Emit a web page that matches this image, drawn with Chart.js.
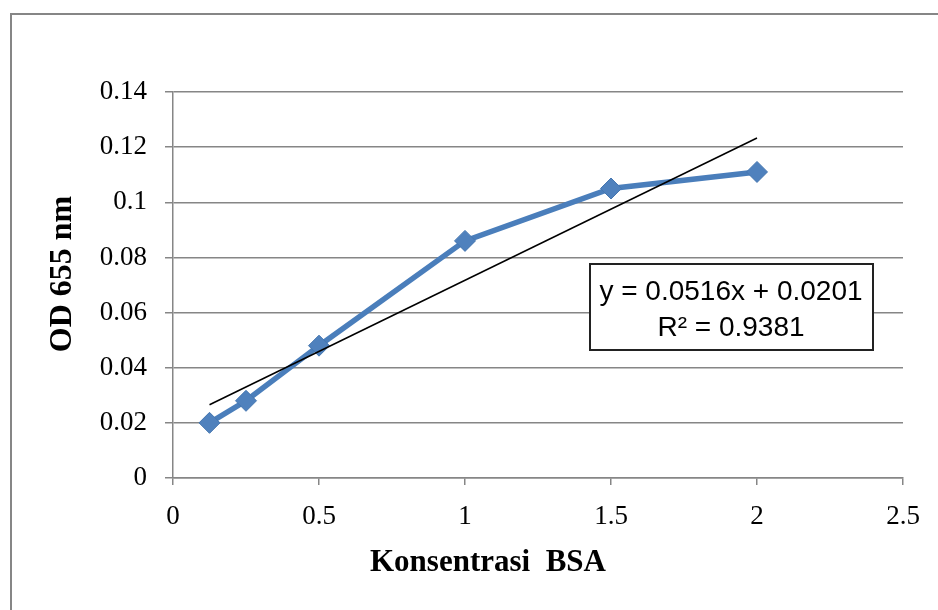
<!DOCTYPE html>
<html>
<head>
<meta charset="utf-8">
<script src="https://cdn.jsdelivr.net/npm/chart.js@4"></script>
<style>
  html, body { margin: 0; padding: 0; background: #fff; }
  #wrap { width: 938px; height: 610px; position: relative; }
</style>
</head>
<body>
<div id="wrap"><canvas id="c" width="938" height="610"></canvas></div>
<script>
// BSA standard curve: absorbance at 655 nm vs. concentration
const concentrations = [0.125, 0.25, 0.5, 1, 1.5, 2];
const absorbance = [0.020, 0.028, 0.048, 0.086, 0.105, 0.111];

// linear fit reported on the chart
const trendSlope = 0.0516;
const trendIntercept = 0.0201;
const rSquared = 0.9381;

const xTicks = [0, 0.5, 1, 1.5, 2, 2.5];
const yTicks = [0, 0.02, 0.04, 0.06, 0.08, 0.1, 0.12, 0.14];

const xTitle = 'Konsentrasi  BSA';
const yTitle = 'OD 655 nm';
const equationText = 'y = ' + trendSlope.toFixed(4) + 'x + ' + trendIntercept.toFixed(4);
const r2Text = 'R\u00B2 = ' + rSquared.toFixed(4);

const seriesPoints = concentrations.map((x, i) => ({ x: x, y: absorbance[i] }));
const xFirst = concentrations[0];
const xLast = concentrations[concentrations.length - 1];
const trendPoints = [xFirst, xLast].map(x => ({ x: x, y: trendSlope * x + trendIntercept }));

const AXIS_GRAY = '#868686';
const SERIF = '"Liberation Serif", "Times New Roman", serif';

const decorations = {
  id: 'decorations',
  beforeDraw(chart) {
    const ctx = chart.ctx;
    ctx.save();
    ctx.fillStyle = '#ffffff';
    ctx.fillRect(0, 0, chart.width, chart.height);
    // chart frame
    ctx.strokeStyle = AXIS_GRAY;
    ctx.lineWidth = 2;
    ctx.beginPath();
    ctx.moveTo(11, chart.height);
    ctx.lineTo(11, 14);
    ctx.lineTo(chart.width, 14);
    ctx.stroke();
    ctx.restore();
  },
  afterDraw(chart) {
    const ctx = chart.ctx;
    ctx.save();
    // axis titles
    ctx.fillStyle = '#000';
    ctx.font = 'bold 31px ' + SERIF;
    ctx.textAlign = 'center';
    ctx.textBaseline = 'middle';
    ctx.fillText(xTitle, 488, 563);
    ctx.font = 'bold 32px ' + SERIF;
    ctx.translate(63, 274);
    ctx.rotate(-Math.PI / 2);
    ctx.fillText(yTitle, 0, 0);
    ctx.restore();

    // equation box
    ctx.save();
    ctx.fillStyle = '#ffffff';
    ctx.fillRect(590, 264, 283, 86);
    ctx.strokeStyle = '#222';
    ctx.lineWidth = 2;
    ctx.strokeRect(590, 264, 283, 86);
    ctx.fillStyle = '#000';
    ctx.font = '28px "Liberation Sans", Arial, sans-serif';
    ctx.textAlign = 'center';
    ctx.textBaseline = 'middle';
    ctx.fillText(equationText, 731, 292);
    ctx.fillText(r2Text, 731, 328);
    ctx.restore();
  }
};

new Chart(document.getElementById('c'), {
  type: 'scatter',
  data: {
    datasets: [
      {
        label: 'OD 655 nm',
        data: seriesPoints,
        showLine: true,
        borderColor: '#4A7EBB',
        borderWidth: 5.5,
        backgroundColor: '#4F81BD',
        pointStyle: 'rectRot',
        pointRadius: 10.5,
        pointBorderWidth: 1,
        pointBorderColor: '#4576B0',
        pointBackgroundColor: '#4F81BD',
        order: 1
      },
      {
        label: 'Linear',
        data: trendPoints,
        showLine: true,
        borderColor: '#000',
        borderWidth: 1.5,
        pointRadius: 0,
        order: 0
      }
    ]
  },
  options: {
    responsive: false,
    devicePixelRatio: 1,
    animation: false,
    layout: { padding: { left: 12, right: 35, top: 92, bottom: 0 } },
    plugins: { legend: { display: false }, tooltip: { enabled: false } },
    scales: {
      x: {
        type: 'linear',
        min: 0,
        max: 2.5,
        afterBuildTicks: s => { s.ticks = xTicks.map(v => ({ value: v })); },
        afterFit: s => { s.height = 132; },
        grid: { drawOnChartArea: false, drawTicks: true, tickLength: 7, color: AXIS_GRAY, lineWidth: 1.5 },
        border: { display: true, color: AXIS_GRAY, width: 1.5 },
        ticks: {
          callback: v => String(v),
          font: { family: SERIF, size: 27 },
          color: '#000',
          padding: 16,
          maxRotation: 0
        }
      },
      y: {
        type: 'linear',
        min: 0,
        max: 0.14,
        afterBuildTicks: s => { s.ticks = yTicks.map(v => ({ value: v })); },
        afterFit: s => { s.width = 161; },
        grid: { color: AXIS_GRAY, lineWidth: 1.5, drawTicks: true, tickLength: 8 },
        border: { display: true, color: AXIS_GRAY, width: 1.5 },
        ticks: {
          callback: v => String(v),
          font: { family: SERIF, size: 27 },
          color: '#000',
          padding: 18
        }
      }
    }
  },
  plugins: [decorations]
});
</script>
</body>
</html>
